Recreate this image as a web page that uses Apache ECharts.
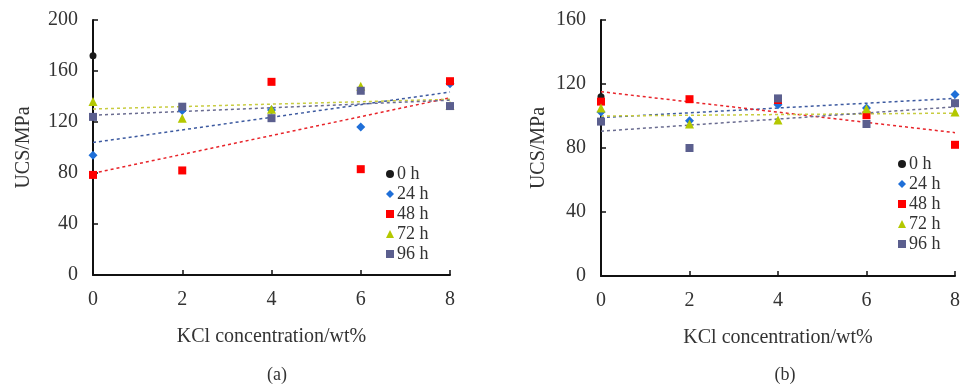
<!DOCTYPE html>
<html>
<head>
<meta charset="utf-8">
<script src="https://cdn.jsdelivr.net/npm/echarts@6/dist/echarts.min.js"></script>
<style>html,body{margin:0;padding:0;background:#fff;}#c{width:963px;height:386px;}</style>
</head>
<body>
<div id="c"></div>
<script>
// ---- data ----
const kcl = [0, 2, 4, 6, 8];
const seriesNames = ['0 h', '24 h', '48 h', '72 h', '96 h'];
const xTicks = [0, 2, 4, 6, 8];
const yTicksA = [0, 40, 80, 120, 160, 200];
const yTicksB = [0, 40, 80, 120, 160];
// panel (a)
const a0h  = [172, null, null, null, null];
const a24h = [94, 129, 129.5, 116, 150];
const a48h = [78.5, 82, 151.5, 83, 152];
const a72h = [136, 123, 130, 148, 133];
const a96h = [124, 132, 123, 144.5, 132.5];
// panel (b)
const b0h  = [112, null, null, null, null];
const b24h = [102.5, 97, 107, 105, 113.5];
const b48h = [109, 110.5, 110, 100.5, 82];
const b72h = [105, 95, 97.5, 104.5, 102.5];
const b96h = [96.5, 80, 111, 95, 108];

const colors = ['#1a1a1a', '#1f6fd8', '#ff0000', '#b4c800', '#5b5f8e'];
const trendColors = ['#1a1a1a', '#3d5aa0', '#e8242a', '#c8cc40', '#6a6c90'];
const symbols = ['circle', 'diamond', 'rect', 'triangle', 'rect'];
const symSizes = [7, 9, 8, 9, 8];

function pairs(vals) {
  const out = [];
  vals.forEach((v, i) => { if (v !== null) out.push([kcl[i], v]); });
  return out;
}
function trend(vals) {
  const p = pairs(vals);
  if (p.length < 2) return null;
  const n = p.length;
  const mx = p.reduce((s, q) => s + q[0], 0) / n;
  const my = p.reduce((s, q) => s + q[1], 0) / n;
  let sxy = 0, sxx = 0;
  p.forEach(q => { sxy += (q[0] - mx) * (q[1] - my); sxx += (q[0] - mx) * (q[0] - mx); });
  const b = sxy / sxx, a = my - b * mx;
  return [[kcl[0], a + b * kcl[0]], [kcl[kcl.length - 1], a + b * kcl[kcl.length - 1]]];
}

const font = 'Liberation Serif, Times New Roman, serif';
const panels = [
  { data: [a0h, a24h, a48h, a72h, a96h], yMax: 200, ticks: yTicksA, nameGap: 59 },
  { data: [b0h, b24h, b48h, b72h, b96h], yMax: 160, ticks: yTicksB, nameGap: 52 }
];

const grids = [
  { left: 93, top: 20, width: 357, height: 255 },
  { left: 601, top: 20, width: 357, height: 256 }
];

function xAxisDef(gi) {
  return {
    gridIndex: gi, type: 'value', min: 0, max: 8, interval: 2,
    name: 'KCl concentration/wt%', nameLocation: 'middle', nameGap: 52,
    nameTextStyle: { fontFamily: font, fontSize: 20, color: '#333' },
    axisLine: { show: true, onZero: false, lineStyle: { color: '#111', width: 2 } },
    axisTick: { show: true, inside: true, length: 5, lineStyle: { color: '#111', width: 1.5 } },
    axisLabel: { fontFamily: font, fontSize: 20, color: '#333', margin: 15,
      formatter: v => (xTicks.indexOf(v) >= 0 ? String(v) : '') },
    splitLine: { show: false }
  };
}
function yAxisDef(gi, p) {
  return {
    gridIndex: gi, type: 'value', min: 0, max: p.yMax, interval: 40,
    name: 'UCS/MPa', nameLocation: 'middle', nameGap: p.nameGap, nameRotate: 90,
    nameTextStyle: { fontFamily: font, fontSize: 20, color: '#333' },
    axisLine: { show: true, onZero: false, lineStyle: { color: '#111', width: 2 } },
    axisTick: { show: true, inside: true, length: 5, lineStyle: { color: '#111', width: 1.5 } },
    axisLabel: { fontFamily: font, fontSize: 20, color: '#333', margin: 15,
      formatter: v => (p.ticks.indexOf(v) >= 0 ? String(v) : '') },
    splitLine: { show: false }
  };
}

const series = [];
panels.forEach((p, gi) => {
  p.data.forEach((vals, si) => {
    const t = trend(vals);
    if (!t) return;
    series.push({
      name: 'trend ' + seriesNames[si], type: 'line', xAxisIndex: gi, yAxisIndex: gi,
      data: t, showSymbol: false, silent: true, z: 1,
      lineStyle: { color: trendColors[si], width: 1.5, type: [3, 3] }
    });
  });
  p.data.forEach((vals, si) => {
    series.push({
      name: seriesNames[si], type: 'scatter', xAxisIndex: gi, yAxisIndex: gi,
      data: pairs(vals), symbol: symbols[si], symbolSize: symSizes[si], z: 3,
      itemStyle: { color: colors[si], opacity: 1 }
    });
  });
});

function legendDef(left, top) {
  return {
    orient: 'vertical', left: left, top: top, itemGap: 2,
    itemWidth: 8, itemHeight: 8, selectedMode: false,
    textStyle: { fontFamily: font, fontSize: 18, color: '#333', padding: [0, 0, 0, -2] },
    data: seriesNames.map((n, i) => ({ name: n, icon: symbols[i] }))
  };
}

const chart = echarts.init(document.getElementById('c'), null, { renderer: 'canvas' });
chart.setOption({
  backgroundColor: '#ffffff',
  animation: false,
  grid: grids,
  xAxis: [xAxisDef(0), xAxisDef(1)],
  yAxis: [yAxisDef(0, panels[0]), yAxisDef(1, panels[1])],
  legend: [legendDef(381, 160), legendDef(893, 150)],
  title: [
    { text: '(a)', left: 272, top: 361, textAlign: 'center',
      textStyle: { fontFamily: font, fontSize: 18, fontWeight: 'normal', color: '#333' } },
    { text: '(b)', left: 780, top: 361, textAlign: 'center',
      textStyle: { fontFamily: font, fontSize: 18, fontWeight: 'normal', color: '#333' } }
  ],
  series: series
});
</script>
</body>
</html>
